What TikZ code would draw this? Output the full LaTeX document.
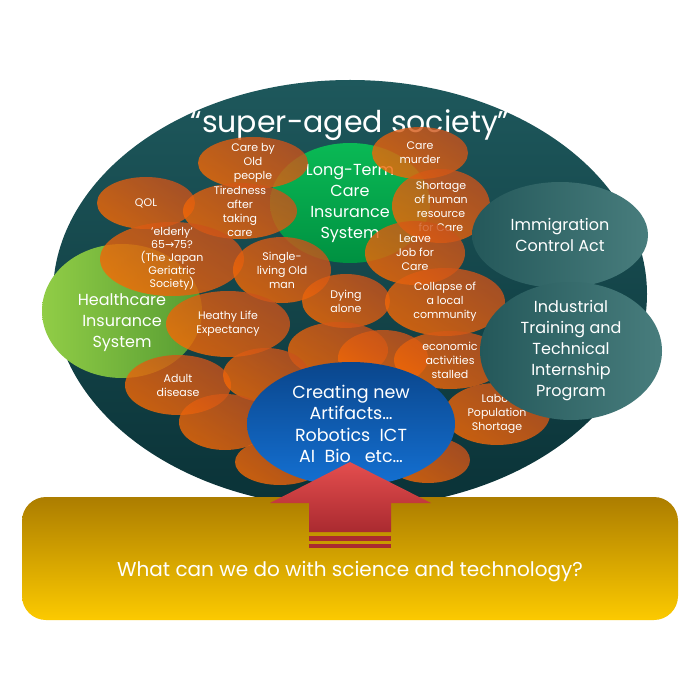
\documentclass[tikz,border=0pt]{standalone}
\usepackage{fontspec}
\setmainfont{Poppins}
\newfontfamily\arrowfont{DejaVu Sans}
\usetikzlibrary{shapes.geometric}

\definecolor{societytop}{RGB}{30,88,92}
\definecolor{societybot}{RGB}{10,50,55}
\definecolor{ltcgreen}{RGB}{10,185,85}
\definecolor{ltcgreendk}{RGB}{0,145,65}
\definecolor{hclight}{RGB}{145,205,70}
\definecolor{hcdark}{RGB}{85,155,50}
\definecolor{orgbright}{RGB}{245,105,5}
\definecolor{orgdark}{RGB}{200,82,28}
\definecolor{lawleft}{RGB}{36,88,90}
\definecolor{lawright}{RGB}{72,125,125}
\definecolor{techtop}{RGB}{10,70,140}
\definecolor{techbot}{RGB}{20,112,210}
\definecolor{pushtop}{RGB}{228,78,78}
\definecolor{pushbot}{RGB}{170,42,48}
\definecolor{goldtop}{RGB}{172,125,0}
\definecolor{goldbot}{RGB}{252,202,0}

\begin{document}
\begin{tikzpicture}[
  x=1pt,
  y=-1pt,
  blob/.style={ellipse,inner sep=-16pt,align=center,text=white},
  issue/.style={blob,top color=orgdark,bottom color=orgbright,shading angle=-35,
    fill opacity=.8,text opacity=1,font=\fontsize{11}{14}\selectfont},
  blank/.style={issue},
  scheme/.style={blob,font=\fontsize{16}{21}\selectfont},
  law/.style={scheme,left color=lawleft,right color=lawright}
]
\useasboundingbox[fill=white] (0,0) rectangle (700,700);

% society
\node[ellipse,minimum width=594pt,minimum height=428pt,
  top color=societytop,bottom color=societybot] (society) at (350,294) {};
\node[text=white,font=\fontsize{30}{30}\selectfont] (title) at (350,125)
  {“super-aged society”};

% insurance systems
\node[scheme,minimum width=160pt,minimum height=120pt,
  top color=ltcgreen,bottom color=ltcgreendk] (ltc) at (350,203)
  {Long-Term\\Care\\Insurance\\System};
\node[blob,minimum width=160pt,minimum height=134pt,
  left color=hclight,right color=hcdark] (health) at (122,311) {};

% issues
\node[issue,minimum width=110pt,minimum height=52pt] (careold) at (253,163)
  {Care by\\Old\\people};
\node[issue,minimum width=96pt,minimum height=52pt] (murder) at (420,153)
  {Care\\murder};
\node[issue,minimum width=98pt,minimum height=52pt] (qol) at (146,203) {QOL};
\node[issue,minimum width=114pt,minimum height=56pt] (tired) at (240,211)
  {Tiredness\\after\\taking\\care};
\node[issue,minimum width=98pt,minimum height=74pt] (shortage) at (441,206)
  {Shortage\\of human\\resource\\for Care};
\node[issue,minimum width=144pt,minimum height=74pt,
  font=\fontsize{11}{13}\selectfont] (elderly) at (172,259)
  {'elderly'\\65{\arrowfont →}75?\\(The Japan\\Geriatric\\Society)};
\node[issue,minimum width=98pt,minimum height=66pt] (single) at (282,270)
  {Single-\\living Old\\man};
\node[issue,minimum width=100pt,minimum height=64pt] (leave) at (415,253)
  {Leave\\Job for\\Care};
\node[issue,minimum width=88pt,minimum height=54pt] (dying) at (346,301)
  {Dying\\alone};
\node[issue,minimum width=120pt,minimum height=68pt] (collapse) at (445,302)
  {Collapse of\\a local\\community};
\node[issue,minimum width=124pt,minimum height=66pt] (healthy) at (228,324)
  {Heathy Life\\Expectancy};
\node[issue,minimum width=106pt,minimum height=60pt] (adult) at (178,385)
  {Adult\\disease};
\node[blank,minimum width=100pt,minimum height=56pt] (blankA) at (338,350) {};
\node[blank,minimum width=86pt,minimum height=54pt] (blankB) at (266,375) {};
\node[blank,minimum width=90pt,minimum height=56pt] (blankC) at (383,358) {};
\node[blank,minimum width=92pt,minimum height=56pt] (blankD) at (225,422) {};
\node[blank,minimum width=90pt,minimum height=46pt] (blankE) at (280,462) {};
\node[blank,minimum width=84pt,minimum height=46pt] (blankF) at (428,460) {};
\node[issue,minimum width=112pt,minimum height=58pt] (economic) at (450,360)
  {economic\\activities\\stalled};
\node[issue,minimum width=106pt,minimum height=62pt] (labor) at (497,414)
  {Labor\\Population\\Shortage};

\node[scheme] (healthtext) at (122,323) {Healthcare\\Insurance\\System};

% immigration
\node[law,minimum width=176pt,minimum height=106pt] (immigration) at (560,235)
  {Immigration\\Control Act};
\node[law,minimum width=182pt,minimum height=138pt] (internship) at (571,351)
  {Industrial\\Training and\\Technical\\Internship\\Program};

% technology
\node[blob,font=\fontsize{17.5}{21.5}\selectfont,minimum width=208pt,minimum height=124pt,
  top color=techtop,bottom color=techbot] (artifacts) at (351,424)
  {Creating new\\Artifacts…\\Robotics\ \ ICT\\AI\ \ Bio\ \ \ etc…};

\node[rounded corners=24pt,minimum width=656pt,minimum height=123pt,
  top color=goldtop,bottom color=goldbot] (base) at (350,558.5) {};
\shade[top color=pushtop,bottom color=pushbot]
  (350,462) -- (431,503) -- (391,503) -- (391,532) -- (309,532)
  -- (309,503) -- (270,503) -- cycle;
\fill[pushbot] (309,536) rectangle (391,541);
\fill[pushbot] (309,544) rectangle (391,547.5);
\node[text=white,font=\fontsize{20}{20}\selectfont] (question) at (350,572)
  {What can we do with science and technology?};

\end{tikzpicture}
\end{document}
